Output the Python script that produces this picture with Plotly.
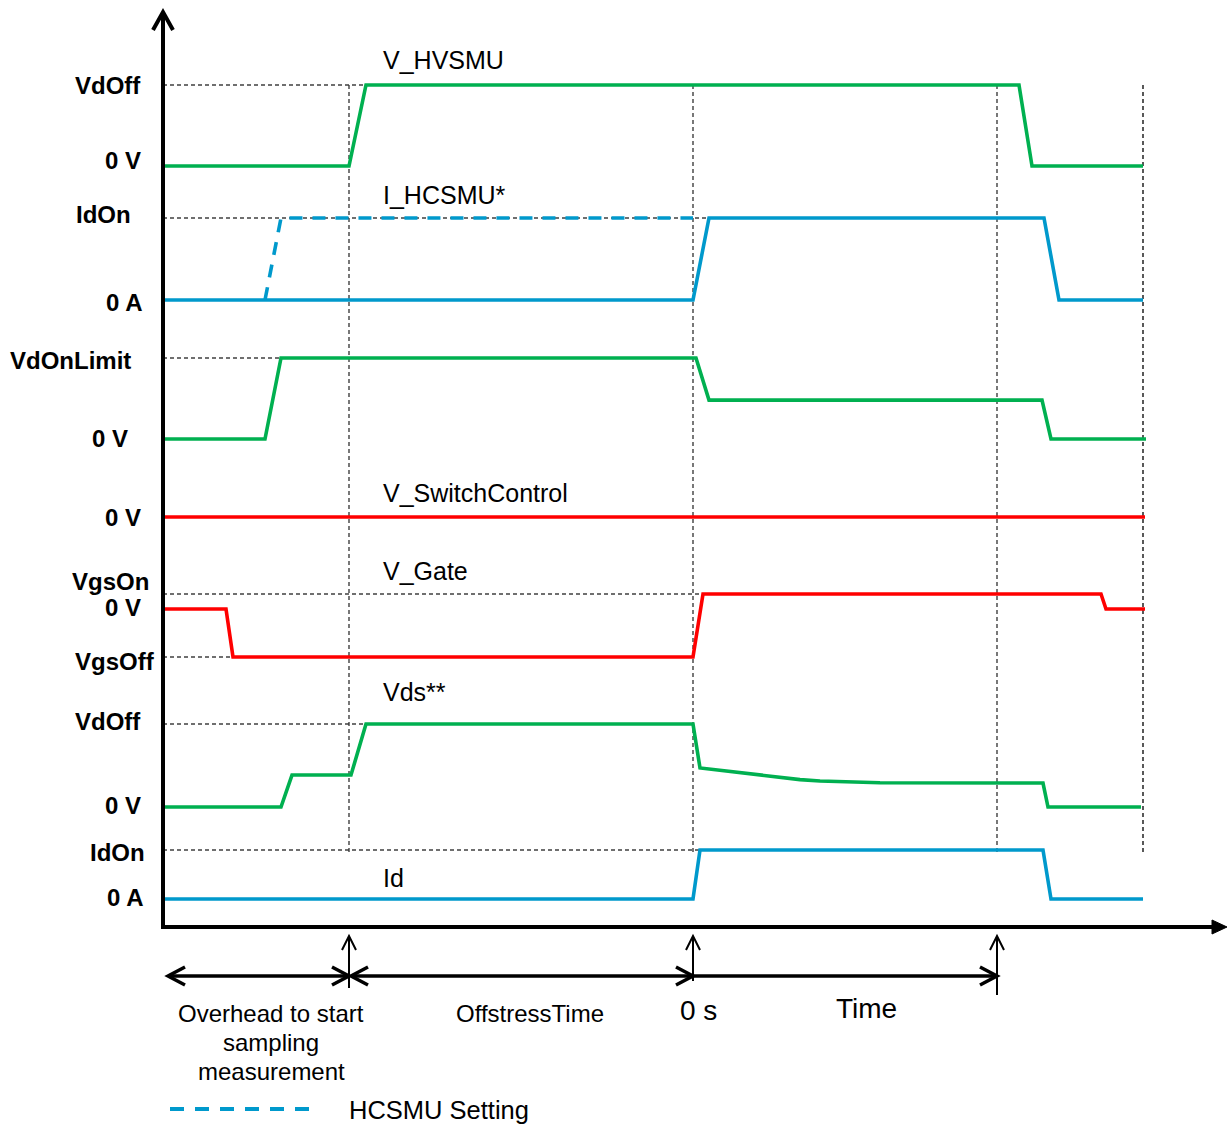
import plotly.graph_objects as go

# ---------------- time events (t = 0 marks "0 s") ----------------
t_axis = -530          # where the time axis starts
t_sample = -344        # sampling measurement starts
t_zero = 0             # 0 s
t_time_end = 304       # end of the "Time" interval
t_last = 450           # end of drawn waveforms
event_times = [t_sample, t_zero, t_time_end, t_last]

# ---------------- waveforms: times and levels ----------------
hvsmu_t = [-530, -344, -327, 326, 339, 450]
hvsmu_v = [0, 0, 1, 1, 0, 0]

hcsmu_t = [-530, 0, 16, 351, 366, 450]
hcsmu_v = [0, 0, 1, 1, 0, 0]

hcsmu_set_t = [-428, -412, 0]
hcsmu_set_v = [0, 1, 1]

vdon_t = [-530, -428, -412, 3, 16, 349, 358, 453]
vdon_v = [0, 0, 1, 1, 0.48, 0.48, 0, 0]

switch_t = [-530, 452]
switch_v = [0, 0]

gate_t = [-530, -467, -460, 0, 10, 408, 413, 452]
gate_v = [0, 0, -3.2, -3.2, 1, 1, 0, 0]

vds_t = [-530, -412, -401, -342, -327, 0, 7, 27, 47, 67, 87, 107, 127, 152, 187, 350, 355, 448]
vds_v = [0, 0, 0.385, 0.385, 1, 1, 0.47, 0.44, 0.41, 0.38, 0.352, 0.33, 0.313, 0.301, 0.292, 0.289, 0, 0]

id_t = [-530, 0, 7, 350, 358, 450]
id_v = [0, 0, 1, 1, 0, 0]

# ---------------- labels ----------------
signal_names = ["V_HVSMU", "I_HCSMU*", "V_SwitchControl", "V_Gate", "Vds**", "Id"]
tick_text = ["VdOff", "0 V", "IdOn", "0 A", "VdOnLimit", "0 V", "0 V",
             "VgsOn", "0 V", "VgsOff", "VdOff", "0 V", "IdOn", "0 A"]
tick_row = ["hvsmu", "hvsmu", "hcsmu", "hcsmu", "vdon", "vdon", "switch",
            "gate", "gate", "gate", "vds", "vds", "id", "id"]
tick_level = [1, 0, 1, 0, 1, 0, 0, 1, 0, -3.2, 1, 0, 1, 0]
overhead_lines = ["Overhead to start", "sampling", "measurement"]
span_labels = ["OffstressTime", "0 s", "Time"]
legend_label = "HCSMU Setting"

# ---------------- layout of the stacked rows (screen units, y downward) ----------------
W, H = 1231, 1125
X0 = 693                          # screen column of t = 0
rows = {                          # baseline, units per level step
    "hvsmu": (166, 81), "hcsmu": (300, 82), "vdon": (439, 81), "switch": (517, 1),
    "gate": (609, 15), "vds": (807, 83), "id": (899, 49),
}

GREEN, BLUE, RED = "#00B050", "#0099CC", "#FF0000"
FONT = "Liberation Sans, Arial, sans-serif"


def ys(row, values):
    base, k = rows[row]
    return [base - v * k for v in values]


def sx(px):
    return px - X0


fig = go.Figure()

# reference dashes from the axis to where each level is first reached
def first_time(ts, vs, level):
    for t, v in zip(ts, vs):
        if abs(v - level) < 1e-9:
            return t
    return ts[-1]

refs = [("hvsmu", hvsmu_t, hvsmu_v, 1), ("hcsmu", hcsmu_t, hcsmu_v, 1),
        ("vdon", vdon_t, vdon_v, 1), ("gate", gate_t, gate_v, 1),
        ("gate", gate_t, gate_v, -3.2), ("vds", vds_t, vds_v, 1), ("id", id_t, id_v, 1)]
for row, ts, vs, lvl in refs:
    t_end = first_time(ts, vs, lvl)
    if row == "id":
        t_end += 12
    y = ys(row, [lvl])[0]
    fig.add_shape(type="line", x0=t_axis, x1=t_end, y0=y, y1=y,
                  line=dict(color="#404040", width=1.3, dash="4px,3px"), layer="below")

# vertical event markers
for t in event_times:
    fig.add_shape(type="line", x0=t, x1=t, y0=85, y1=855,
                  line=dict(color="#303030" if t != t_last else "#000000", width=1.3,
                            dash="4px,3px"), layer="below")

# waveforms
traces = [
    ("hvsmu", hvsmu_t, hvsmu_v, GREEN, "solid"),
    ("hcsmu", hcsmu_set_t, hcsmu_set_v, BLUE, "13px,10px"),
    ("hcsmu", hcsmu_t, hcsmu_v, BLUE, "solid"),
    ("vdon", vdon_t, vdon_v, GREEN, "solid"),
    ("switch", switch_t, switch_v, RED, "solid"),
    ("gate", gate_t, gate_v, RED, "solid"),
    ("vds", vds_t, vds_v, GREEN, "solid"),
    ("id", id_t, id_v, BLUE, "solid"),
]
for row, ts, vs, col, dash in traces:
    fig.add_trace(go.Scatter(x=ts, y=ys(row, vs), mode="lines", showlegend=False,
                             hoverinfo="skip",
                             line=dict(color=col, width=3.6, dash=dash)))

# axes drawn as arrows
AX_Y = 927
fig.add_shape(type="line", x0=t_axis, x1=t_axis, y0=AX_Y + 2, y1=12,
              line=dict(color="black", width=4))
fig.add_shape(type="path", path=f"M {t_axis-10},30 L {t_axis},12 L {t_axis+10},30",
              line=dict(color="black", width=4))
fig.add_shape(type="line", x0=t_axis - 2, x1=sx(1214), y0=AX_Y, y1=AX_Y,
              line=dict(color="black", width=4))
fig.add_shape(type="path", path=f"M {sx(1212)},{AX_Y-7} L {sx(1227)},{AX_Y} L {sx(1212)},{AX_Y+7} Z",
              fillcolor="black", line=dict(color="black", width=1))

# upward arrows at the event instants under the time axis
for t, tail in zip(event_times[:3], [988, 981, 995]):
    fig.add_shape(type="line", x0=t, x1=t, y0=936, y1=tail, line=dict(color="black", width=2))
    fig.add_shape(type="path", path=f"M {t-7},950 L {t},936 L {t+7},950",
                  line=dict(color="black", width=2))

# interval arrows
ARR_Y = 976
spans = [(sx(168), t_sample, True, True), (t_sample + 2, t_zero, True, True),
         (t_zero, t_time_end, False, True)]
for a, b, left, right in spans:
    fig.add_shape(type="line", x0=a, x1=b, y0=ARR_Y, y1=ARR_Y, line=dict(color="black", width=3.5))
    if left:
        fig.add_shape(type="path", path=f"M {a+17},{ARR_Y-9} L {a},{ARR_Y} L {a+17},{ARR_Y+9}",
                      line=dict(color="black", width=3.5))
    if right:
        fig.add_shape(type="path", path=f"M {b-17},{ARR_Y-9} L {b},{ARR_Y} L {b-17},{ARR_Y+9}",
                      line=dict(color="black", width=3.5))

annotations = []

# signal names
for name, y in zip(signal_names, [60, 195, 493, 571, 692, 878]):
    annotations.append(dict(x=sx(381), y=y, text=name, xanchor="left", yanchor="middle",
                            showarrow=False, font=dict(family=FONT, size=25, color="#000")))

# level labels at the left
tick_dy = [0, -6, -4, 2, 2, -1, 0, -13, -2, 4, -3, -2, 2, -2]
tick_right = [143, 143, 133, 144, 133, 130, 143, 151, 143, 157, 143, 143, 147, 145]
for txt, row, lvl, dy, xr in zip(tick_text, tick_row, tick_level, tick_dy, tick_right):
    y = ys(row, [lvl])[0] + dy
    annotations.append(dict(x=sx(xr), y=y, text=f"<b>{txt}</b>", xanchor="right",
                            yanchor="middle", showarrow=False,
                            font=dict(family=FONT, size=24, color="#000")))

# interval captions
for line_txt, y in zip(overhead_lines, [1013, 1042, 1071]):
    annotations.append(dict(x=sx(271), y=y, text=line_txt, xanchor="center", yanchor="middle",
                            showarrow=False, font=dict(family=FONT, size=24, color="#000")))
annotations.append(dict(x=sx(530), y=1013, text=span_labels[0], xanchor="center", yanchor="middle",
                        showarrow=False, font=dict(family=FONT, size=24, color="#000")))
annotations.append(dict(x=sx(698), y=1010, text=span_labels[1], xanchor="center", yanchor="middle",
                        showarrow=False, font=dict(family=FONT, size=28, color="#000")))
annotations.append(dict(x=sx(866), y=1008, text=span_labels[2], xanchor="center", yanchor="middle",
                        showarrow=False, font=dict(family=FONT, size=28, color="#000")))

# key for the dashed HCSMU line
fig.add_shape(type="line", x0=sx(170), x1=sx(318), y0=1109, y1=1109,
              line=dict(color=BLUE, width=4, dash="14px,11px"))
annotations.append(dict(x=sx(347), y=1110, text=legend_label, xanchor="left", yanchor="middle",
                        showarrow=False, font=dict(family=FONT, size=25.5, color="#000")))

fig.update_layout(
    width=W, height=H, margin=dict(l=0, r=0, t=0, b=0),
    paper_bgcolor="white", plot_bgcolor="white",
    xaxis=dict(range=[sx(0), sx(W)], visible=False, fixedrange=True),
    yaxis=dict(range=[H, 0], visible=False, fixedrange=True),
    annotations=annotations,
)

fig.write_html("out.html", config={"displayModeBar": False})
